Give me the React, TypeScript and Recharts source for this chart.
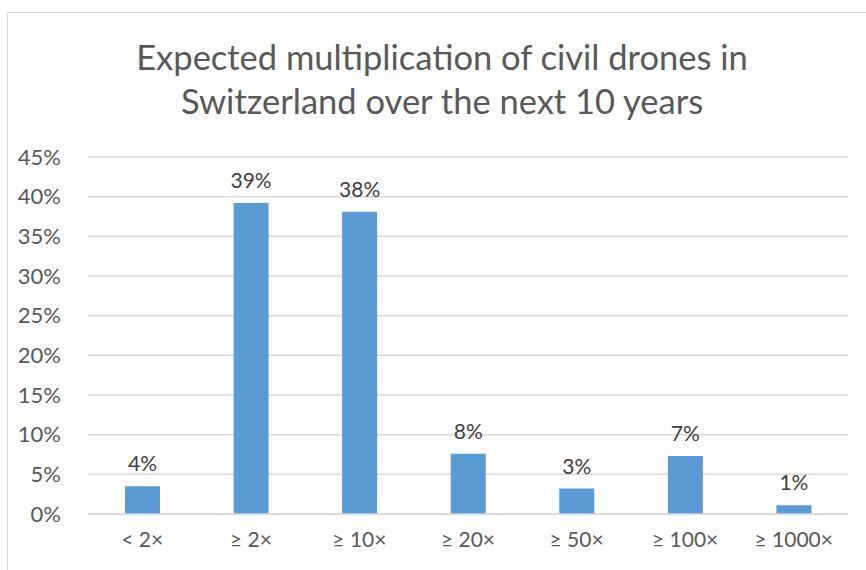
import React from "react";
import { BarChart, Bar, XAxis, YAxis, CartesianGrid, LabelList } from "recharts";

const categories = ["< 2×", "≥ 2×", "≥ 10×", "≥ 20×", "≥ 50×", "≥ 100×", "≥ 1000×"];
const shares = [3.5, 39.2, 38.1, 7.6, 3.2, 7.3, 1.1];
const yTicks = [0, 5, 10, 15, 20, 25, 30, 35, 40, 45];
const titleLines = ["Expected multiplication of civil drones in", "Switzerland over the next 10 years"];

const data = categories.map((c, i) => ({ name: c, value: shares[i] }));

const FONT = "Lato, 'Open Sans', sans-serif";
const GRAY = "#595959";

export default function App() {
  return (
    <div style={{ position: "absolute", left: 0, top: 0, width: 866, height: 570, overflow: "hidden", background: "#fff", fontFamily: FONT }}>
      <div style={{ position: "absolute", left: 7, top: 12, width: 900, height: 600, borderLeft: "1px solid #D9D9D9", borderTop: "1px solid #D9D9D9" }} />
      <div style={{ position: "absolute", left: 0, top: 35, width: 884, textAlign: "center", color: GRAY, fontSize: 34.5, lineHeight: "44px" }}>
        {titleLines.map((t, i) => (
          <div key={i}>{t}</div>
        ))}
      </div>
      <div style={{ position: "absolute", left: 0, top: 0 }}>
        <BarChart width={866} height={570} data={data} margin={{ top: 157, right: 18, bottom: 26, left: 0 }}>
          <CartesianGrid vertical={false} stroke="#D9D9D9" strokeWidth={1.5} />
          <XAxis
            dataKey="name"
            height={30}
            axisLine={{ stroke: "#D9D9D9", strokeWidth: 1.5 }}
            tickLine={false}
            tick={{ fill: GRAY, fontSize: 21, fontFamily: FONT }}
            tickMargin={12}
          />
          <YAxis
            width={88}
            domain={[0, 45]}
            ticks={yTicks}
            axisLine={false}
            tickLine={false}
            tickFormatter={(v: number) => `${v}%`}
            tick={{ fill: GRAY, fontSize: 22, fontFamily: FONT }}
            tickMargin={21}
          />
          <Bar dataKey="value" fill="#5B9BD5" barSize={35} isAnimationActive={false}>
            <LabelList
              dataKey="value"
              position="top"
              offset={15}
              formatter={(v: number) => `${Math.round(v)}%`}
              style={{ fill: "#404040", fontSize: 21, fontFamily: FONT }}
            />
          </Bar>
        </BarChart>
      </div>
    </div>
  );
}
